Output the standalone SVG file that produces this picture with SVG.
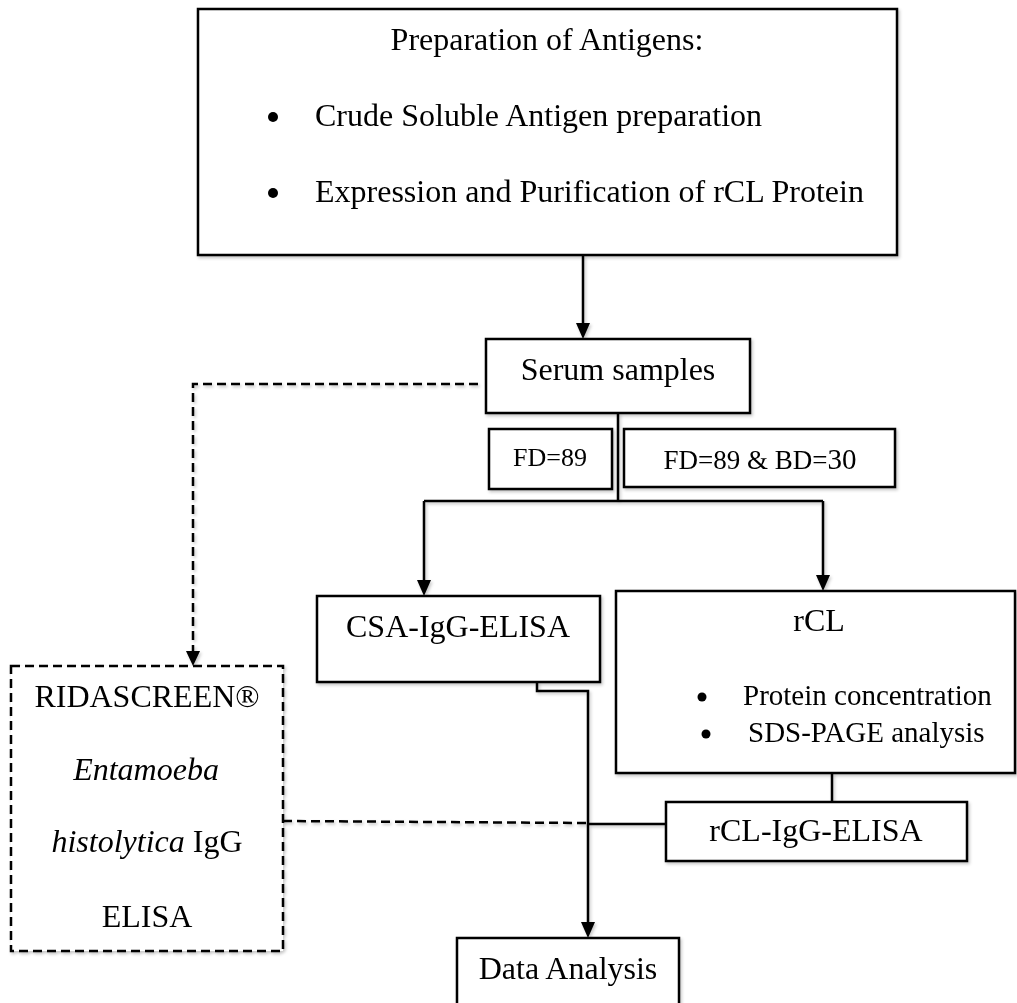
<svg xmlns="http://www.w3.org/2000/svg" width="1017" height="1003" viewBox="0 0 1017 1003">
<style>
  .box { fill: #fff; stroke: #000; stroke-width: 2.5; }
  .dbox { fill: #fff; stroke: #000; stroke-width: 2.5; stroke-dasharray: 9 5; }
  .t { font-family: "Liberation Serif", "Times New Roman", serif; font-size: 32px; fill: #000; }
  .ts { font-family: "Liberation Serif", "Times New Roman", serif; font-size: 29px; fill: #000; }
  .m { text-anchor: middle; }
  .ln { fill: none; stroke: #000; stroke-width: 2.5; }
  .dl { fill: none; stroke: #000; stroke-width: 2.5; stroke-dasharray: 9 5; }
</style>
<defs>
  <filter id="sh" x="-10%" y="-10%" width="130%" height="130%">
    <feDropShadow dx="1.5" dy="2" stdDeviation="1.5" flood-color="#000" flood-opacity="0.22"/>
  </filter>
  <marker id="ah" markerUnits="userSpaceOnUse" markerWidth="16" markerHeight="18" refX="8" refY="16" orient="auto-start-reverse" viewBox="0 0 16 18">
    <path d="M1,0 L15,0 L8,16 Z" fill="#000"/>
  </marker>
</defs>
<rect width="1017" height="1003" fill="#fff"/>

<g id="connectors" filter="url(#sh)">
  <path class="ln" d="M583,255 V323"/>
  <path d="M576,323 L590,323 L583,339 Z" fill="#000"/>
  <path class="ln" d="M618,413 V501 M424,501 H823 M424,501 V580 M823,501 V575"/>
  <path d="M417,580 L431,580 L424,596 Z" fill="#000"/>
  <path d="M816,575 L830,575 L823,591 Z" fill="#000"/>
  <path class="dl" d="M478,384 H193 V651"/>
  <path d="M186,651 L200,651 L193,666 Z" fill="#000"/>
  <path class="ln" d="M537,682 V691 H588 V922"/>
  <path d="M581,922 L595,922 L588,938 Z" fill="#000"/>
  <path class="ln" d="M832,773 V802"/>
  <path class="ln" d="M588,824 H666"/>
  <path class="dl" d="M283,821 L586,823"/>
</g>

<g id="node-antigens" filter="url(#sh)">
  <rect class="box" x="198" y="9" width="699" height="246"/>
  <text class="t m" x="547" y="50">Preparation of Antigens:</text>
  <circle cx="273" cy="117" r="5"/>
  <text class="t" x="315" y="126">Crude Soluble Antigen preparation</text>
  <circle cx="273" cy="193" r="5"/>
  <text class="t" x="315" y="202">Expression and Purification of rCL Protein</text>
</g>

<g id="node-serum" filter="url(#sh)">
  <rect class="box" x="486" y="339" width="264" height="74"/>
  <text class="t m" x="618" y="380">Serum samples</text>
</g>

<g id="node-fd89" filter="url(#sh)">
  <rect class="box" x="489" y="429" width="123" height="60"/>
  <text class="t m" x="550" y="466" style="font-size:26px">FD=89</text>
</g>

<g id="node-fdbd" filter="url(#sh)">
  <rect class="box" x="624" y="429" width="271" height="58"/>
  <text class="t m" x="760" y="469" style="font-size:27px">FD=89 &amp; BD=<tspan style="font-size:29px">30</tspan></text>
</g>

<g id="node-csa" filter="url(#sh)">
  <rect class="box" x="317" y="596" width="283" height="86"/>
  <text class="t m" x="458" y="637">CSA-IgG-ELISA</text>
</g>

<g id="node-rcl" filter="url(#sh)">
  <rect class="box" x="616" y="591" width="399" height="182"/>
  <text class="t m" x="819" y="631">rCL</text>
  <circle cx="702" cy="697" r="4.5"/>
  <text class="ts" x="743" y="705">Protein concentration</text>
  <circle cx="706" cy="734" r="4.5"/>
  <text class="ts" x="748" y="742">SDS-PAGE analysis</text>
</g>

<g id="node-ridascreen" filter="url(#sh)">
  <rect class="dbox" x="11" y="666" width="272" height="285"/>
  <text class="t m" x="147" y="707">RIDASCREEN®</text>
  <text class="t m" x="146" y="780" font-style="italic">Entamoeba</text>
  <text class="t m" x="147" y="852"><tspan font-style="italic">histolytica</tspan> IgG</text>
  <text class="t m" x="147" y="927">ELISA</text>
</g>

<g id="node-rcl-elisa" filter="url(#sh)">
  <rect class="box" x="666" y="802" width="301" height="59"/>
  <text class="t m" x="816" y="841">rCL-IgG-ELISA</text>
</g>

<g id="node-data" filter="url(#sh)">
  <rect class="box" x="457" y="938" width="222" height="80"/>
  <text class="t m" x="568" y="979">Data Analysis</text>
</g>
</svg>
